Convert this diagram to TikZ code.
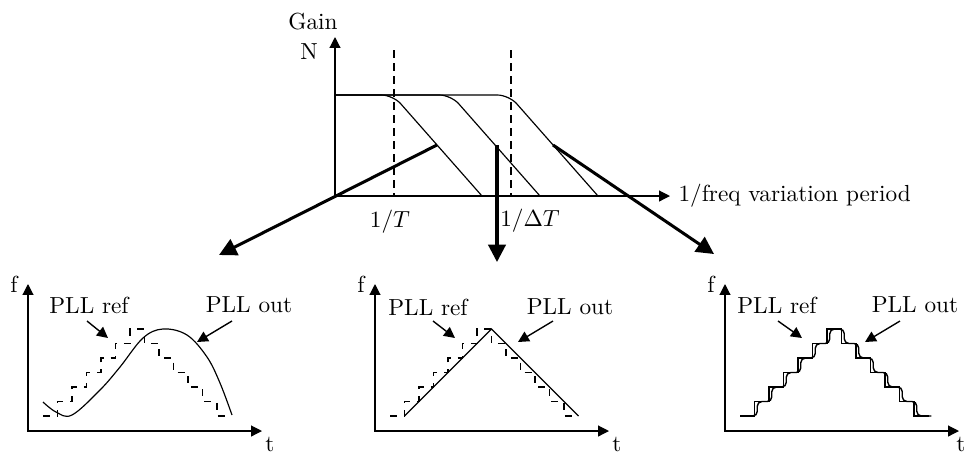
\documentclass[tikz,border=0pt]{standalone}
\usepackage{tikz}
\usetikzlibrary{arrows.meta,positioning}

\begin{document}
\begin{tikzpicture}[
  x=0.43pt, y=-0.43pt,
  ax/.style={-{Triangle[length=4.7pt, width=4.7pt]}, line width=0.5pt},
  axx/.style={{Triangle[length=4.7pt, width=4.7pt]}-{Triangle[length=4.7pt, width=4.7pt]}, line width=0.5pt},
  bigarr/.style={-{Triangle[length=7.5pt, width=7.5pt]}, line width=1.3pt},
  lbl/.style={-{Triangle[length=4.7pt, width=4.7pt]}, line width=0.6pt},
  gaincurve/.style={rounded corners=5pt, line width=0.5pt},
  vline/.style={dash pattern=on 3.3pt off 2.3pt, line width=0.5pt},
  refstep/.style={dashed, line width=0.5pt},
  outstep/.style={line width=0.6pt},
  outline/.style={line width=0.5pt}
]
\useasboundingbox (0,0) rectangle (968,455);

% gain plot
\coordinate (O) at (335,196);
\coordinate (ytop) at (335,37);
\coordinate (xend) at (670,196);
\draw[axx] (ytop) -- (O) -- (xend);
\node[right, inner sep=3.5pt] (xlab) at (xend) {1/freq variation period};
\node (gain) at (313,22) {Gain};
\node (nlab) at (309,52) {N};
\foreach \x in {394,511} {
  \draw[vline] (\x,50) -- (\x,196);
}
\node (lT) at (390,222) {$1/T$};
\node (ldT) at (530,221) {$1/\Delta T$};
\foreach \c in {393,451,509} {
  \draw[gaincurve] (335,95) -- (\c,95) -- ({\c+89},196);
}

% arrows to the time plots
\coordinate (ka) at (437,145);
\coordinate (kb) at (497,145);
\coordinate (kc) at (553,145);
\coordinate (ta) at (219,255);
\coordinate (tb) at (497,262);
\coordinate (tc) at (714,254);
\draw[bigarr] (ka) -- (ta);
\draw[bigarr] (kb) -- (tb);
\draw[bigarr] (kc) -- (tc);

% time plots
\foreach \ox/\p/\st/\tx in {28/l/refstep/270,375/m/refstep/617,725/r/outstep/961} {
  \coordinate (o\p) at (\ox,431);
  \draw[axx] (\ox,284) -- (o\p) -- ({\ox+234},431);
  \node (f\p) at ({\ox-14},284) {f};
  \node (t\p) at (\tx,444) {t};
  \draw[\st] ({\ox+15},416)
    \foreach \i in {1,...,6} { -- ++(14.5,0) -- ++(0,-14.5) }
    -- ++(14.5,0)
    \foreach \i in {1,...,6} { -- ++(0,14.5) -- ++(14.5,0) };
}
\draw[outline] plot[smooth, tension=0.6] coordinates {(43,402) (56,412) (72,415) (100,390) (120,367) (143,338) (163,329) (187,335) (207,357) (220,383) (232,415)};
\draw[outline] (404.5,416) -- (491.5,329) -- (578.5,416);
\draw[outstep, rounded corners=2pt, xshift=1.2pt] (740,416)
  \foreach \i in {1,...,6} { -- ++(14.5,0) -- ++(0,-14.5) }
  -- ++(14.5,0)
  \foreach \i in {1,...,6} { -- ++(0,14.5) -- ++(14.5,0) };

% labels
\node (refl) at (89,305) {PLL ref};
\node (outl) at (249,305) {PLL out};
\node (refm) at (428,307) {PLL ref};
\node (outm) at (570,307) {PLL out};
\node (refr) at (777,305) {PLL ref};
\node (outr) at (915,305) {PLL out};
\coordinate (refl-a) at (87,321);  \coordinate (refl-b) at (108,338);
\coordinate (outl-a) at (232,321); \coordinate (outl-b) at (197,342);
\coordinate (refm-a) at (433,321); \coordinate (refm-b) at (455,338);
\coordinate (outm-a) at (553,321); \coordinate (outm-b) at (518,342);
\coordinate (refr-a) at (778,321); \coordinate (refr-b) at (802,338);
\coordinate (outr-a) at (900,321); \coordinate (outr-b) at (865,342);
\foreach \a in {refl,outl,refm,outm,refr,outr} {
  \draw[lbl] (\a-a) -- (\a-b);
}
\end{tikzpicture}
\end{document}
